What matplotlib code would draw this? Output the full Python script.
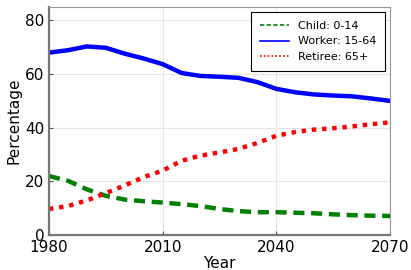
import matplotlib
matplotlib.use("Agg")
import matplotlib.pyplot as plt

years = [1980, 1985, 1990, 1995, 2000, 2005, 2010, 2015, 2020, 2025,
         2030, 2035, 2040, 2045, 2050, 2055, 2060, 2065, 2070]
child = [22.0, 20.2, 17.0, 14.6, 13.2, 12.6, 12.1, 11.5, 10.8, 9.7,
         8.9, 8.5, 8.5, 8.3, 8.1, 7.7, 7.4, 7.2, 7.1]
worker = [68.0, 68.9, 70.3, 69.8, 67.6, 65.8, 63.7, 60.4, 59.3, 59.0,
          58.6, 57.0, 54.5, 53.2, 52.4, 52.0, 51.7, 50.9, 50.0]
retiree = [9.7, 10.8, 12.9, 15.6, 18.5, 21.6, 24.0, 27.7, 29.6, 30.8,
           32.1, 34.3, 37.0, 38.4, 39.3, 39.8, 40.5, 41.3, 42.0]
labels = ["Child: 0-14", "Worker: 15-64", "Retiree: 65+"]
xticks = [1980, 2010, 2040, 2070]
yticks = [0, 20, 40, 60, 80]

fig = plt.figure(figsize=(4.11, 2.70), dpi=100)
ax = fig.add_axes([0.1192, 0.1296, 0.949 - 0.1192, 0.974 - 0.1296])

ax.plot(years, child, color="green", linestyle=(0, (2.5, 1.5)), linewidth=3.2, label=labels[0])
ax.plot(years, worker, color="blue", linestyle="-", linewidth=3.2, label=labels[1])
ax.plot(years, retiree, color="red", linestyle=(0, (1, 1.3)), linewidth=3.2, label=labels[2])

ax.set_xlim(1980, 2070)
ax.set_ylim(0, 85)
ax.set_xticks(xticks)
ax.set_yticks(yticks)
ax.tick_params(direction="in", length=3, labelsize=11, colors="#555555", labelcolor="black",
               top=False, right=False)
ax.grid(True, color="#e4e4e4", linewidth=0.8)
ax.set_axisbelow(True)
for side in ["left", "bottom"]:
    ax.spines[side].set_color("#777777")
    ax.spines[side].set_linewidth(1.6)
for side in ["top", "right"]:
    ax.spines[side].set_color("#999999")
    ax.spines[side].set_linewidth(0.8)

ax.set_xlabel("Year", fontsize=11, labelpad=1)
ax.set_ylabel("Percentage", fontsize=11, labelpad=2)

leg = ax.legend(loc="upper right", fontsize=8, fancybox=False, framealpha=1,
                edgecolor="black", handlelength=2.6, borderaxespad=0.45,
                borderpad=0.8, labelspacing=0.5)
leg.get_frame().set_linewidth(0.8)
for line in leg.get_lines():
    line.set_linewidth(1.2)

fig.savefig("out.png", dpi=100)
